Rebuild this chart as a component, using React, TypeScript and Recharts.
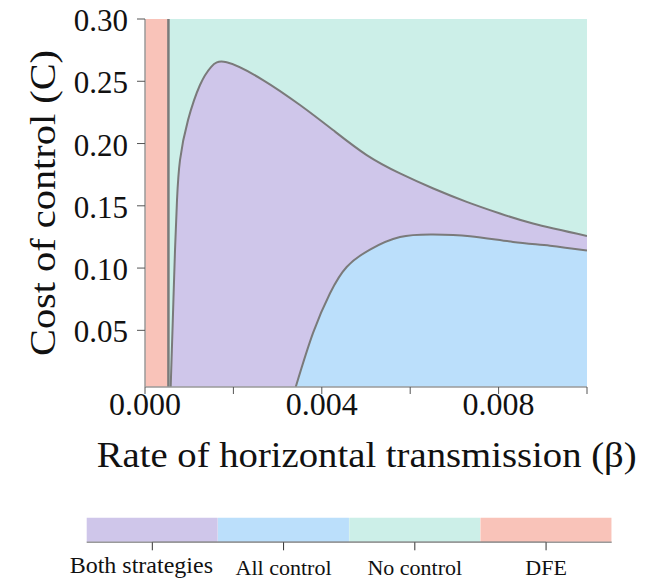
import {
  ComposedChart,
  Area,
  XAxis,
  YAxis,
  CartesianGrid,
  ReferenceArea,
  ReferenceLine,
  BarChart,
  Bar,
  Cell,
} from "recharts";

const FONT = '"Liberation Serif", "Times New Roman", serif';

// axes
const xTicks = [0, 0.002, 0.004, 0.006, 0.008, 0.01];
const xLabeled = [0, 0.004, 0.008];
const yTicks = [0.05, 0.1, 0.15, 0.2, 0.25, 0.3];
const yMin = 0.0045;
const yMax = 0.3;

// DFE region ends here
const dfeEdge = 0.00053;

// boundary between "Both strategies" and "No control"
const upperX = [
  0.000581, 0.000629, 0.000679, 0.000724, 0.000792, 0.000973, 0.001244,
  0.001493, 0.001848, 0.00267, 0.003507, 0.004253, 0.005016, 0.005769,
  0.006523, 0.007278, 0.008032, 0.008778, 0.01,
];
const upperC = [
  0.0045, 0.0581, 0.1144, 0.1545, 0.1867, 0.2188, 0.247, 0.2614, 0.2652,
  0.251, 0.2309, 0.2108, 0.1907, 0.176, 0.1639, 0.1532, 0.1438, 0.1358,
  0.1258,
];

// boundary between "Both strategies" and "All control"
const lowerX = [
  0.00341, 0.0038, 0.004186, 0.004563, 0.00509, 0.005769, 0.006516, 0.007353,
  0.008326, 0.009163, 0.01,
];
const lowerC = [
  0.0045, 0.0477, 0.0798, 0.1009, 0.1149, 0.125, 0.127, 0.1256, 0.121, 0.118,
  0.114,
];

const legendNames = ["Both strategies", "All control", "No control", "DFE"];

const PURPLE = "#cfc6ea";
const BLUE = "#bbdffb";
const TEAL = "#ccefe8";
const SALMON = "#f9c3b9";
const LINE = "#7a7a7a";
const FRAME = "#9a9a9a";
const legendColors = [PURPLE, BLUE, TEAL, SALMON];

const upperData = upperX.map((x, i) => ({ x, c: upperC[i] }));
const lowerData = lowerX.map((x, i) => ({ x, c: lowerC[i] }));
const legendData = legendNames.map((name) => ({ name, v: 1 }));

const XTick = ({ x, y, payload }: any) =>
  xLabeled.includes(payload.value) ? (
    <text x={x} y={y} dy={21} textAnchor="middle" fontSize={32} fontFamily={FONT} fill="#111">
      {payload.value.toFixed(3)}
    </text>
  ) : (
    <g />
  );

const YTick = ({ x, y, payload }: any) => (
  <text x={x} y={y} dy={12} textAnchor="end" fontSize={31} fontFamily={FONT} fill="#111">
    {payload.value.toFixed(2)}
  </text>
);

const LegendTick = ({ x, y, payload, index }: any) => {
  const first = index === 0;
  return (
    <text
      x={first ? x - 11 : x}
      y={y}
      dy={first ? 22.7 : 24.7}
      textAnchor="middle"
      fontSize={first ? 24 : 22}
      fontFamily={FONT}
      fill="#111"
    >
      {payload.value}
    </text>
  );
};

export default function App() {
  return (
    <div style={{ position: "absolute", left: 0, top: 0, width: 662, height: 580, background: "#fff" }}>
      <ComposedChart width={662} height={490} margin={{ top: 19, right: 75, bottom: 0, left: 0 }}>
        <CartesianGrid horizontal={false} vertical={false} fill={TEAL} fillOpacity={1} />
        <Area
          data={upperData}
          dataKey="c"
          type="natural"
          fill={PURPLE}
          fillOpacity={1}
          stroke={LINE}
          strokeWidth={2}
          dot={false}
          activeDot={false}
          isAnimationActive={false}
        />
        <Area
          data={lowerData}
          dataKey="c"
          type="natural"
          fill={BLUE}
          fillOpacity={1}
          stroke={LINE}
          strokeWidth={2}
          dot={false}
          activeDot={false}
          isAnimationActive={false}
        />
        <ReferenceArea x1={0} x2={dfeEdge} y1={yMin} y2={yMax} fill={SALMON} fillOpacity={1} stroke="none" />
        <ReferenceLine x={dfeEdge} stroke={LINE} strokeWidth={2.5} />
        <XAxis
          type="number"
          dataKey="x"
          domain={[0, 0.01]}
          allowDataOverflow
          ticks={xTicks}
          interval={0}
          height={103}
          tickSize={7}
          tickMargin={0}
          tick={XTick}
          axisLine={{ stroke: FRAME, strokeWidth: 1.5 }}
          tickLine={{ stroke: "#555" }}
        />
        <XAxis
          xAxisId="top"
          orientation="top"
          type="number"
          domain={[0, 0.01]}
          height={0}
          tick={false}
          tickLine={false}
          axisLine={{ stroke: FRAME, strokeWidth: 1.5 }}
        />
        <YAxis
          type="number"
          domain={[yMin, yMax]}
          allowDataOverflow
          ticks={yTicks}
          interval={0}
          width={145}
          tickSize={8}
          tickMargin={9}
          tick={YTick}
          axisLine={{ stroke: FRAME, strokeWidth: 1.5 }}
          tickLine={{ stroke: "#555" }}
        />
        <YAxis
          yAxisId="right"
          orientation="right"
          type="number"
          domain={[yMin, yMax]}
          width={0}
          tick={false}
          tickLine={false}
          axisLine={{ stroke: FRAME, strokeWidth: 1.5 }}
        />
        <text
          transform="translate(55,203) rotate(-90)"
          textAnchor="middle"
          fontSize={35}
          fontFamily={FONT}
          fill="#111"
          textLength={306}
          lengthAdjust="spacingAndGlyphs"
        >
          Cost of control (C)
        </text>
        <text
          x={366.7}
          y={466.7}
          textAnchor="middle"
          fontSize={35}
          fontFamily={FONT}
          fill="#111"
          textLength={540}
          lengthAdjust="spacingAndGlyphs"
        >
          Rate of horizontal transmission (β)
        </text>
      </ComposedChart>

      <div style={{ position: "absolute", left: 0, top: 500 }}>
        <BarChart
          width={662}
          height={80}
          data={legendData}
          margin={{ top: 17.7, right: 50.3, bottom: 0, left: 86.7 }}
          barCategoryGap={0}
        >
          <Bar dataKey="v" isAnimationActive={false}>
            {legendData.map((d, i) => (
              <Cell key={d.name} fill={legendColors[i]} />
            ))}
          </Bar>
          <ReferenceLine
            segment={[
              { x: legendNames[0], y: 0 },
              { x: legendNames[3], y: 0 },
            ]}
            stroke="#333"
            strokeWidth={1.2}
            ifOverflow="visible"
          />
          <XAxis
            dataKey="name"
            interval={0}
            height={37.7}
            tickSize={8}
            tickMargin={0}
            tick={LegendTick}
            axisLine={{ stroke: FRAME, strokeWidth: 1.5 }}
            tickLine={{ stroke: "#333" }}
          />
          <XAxis
            xAxisId="top"
            dataKey="name"
            orientation="top"
            height={0}
            tick={false}
            tickLine={false}
            axisLine={{ stroke: FRAME, strokeWidth: 1.5 }}
          />
          <YAxis
            domain={[0, 1]}
            width={0}
            tick={false}
            tickLine={false}
            axisLine={{ stroke: FRAME, strokeWidth: 1.5 }}
          />
          <YAxis
            yAxisId="right"
            orientation="right"
            domain={[0, 1]}
            width={0}
            tick={false}
            tickLine={false}
            axisLine={{ stroke: FRAME, strokeWidth: 1.5 }}
          />
        </BarChart>
      </div>
    </div>
  );
}
